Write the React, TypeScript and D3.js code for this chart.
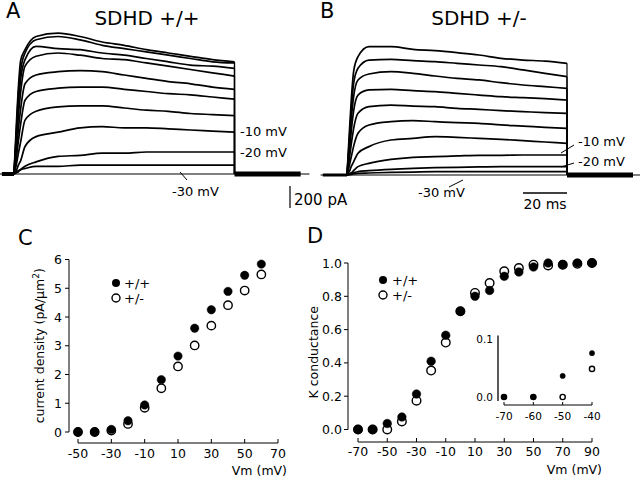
import React from "react";
import * as d3 from "d3";

// ---------- Panel A / B : current traces ----------
const stepVoltages = [-30, -20, -10, 0, 10, 20, 30, 40, 50, 60];
const traceTimes = [0, 1, 2, 3, 5, 10, 20, 30, 40, 50, 60, 70, 80, 90, 100];

// pA, one row per step voltage (-30 ... +60 mV)
const tracesWT = [
  [0, 20, 30, 40, 50, 70, 70, 80, 80, 80, 80, 80, 80, 80, 80],
  [0, 10, 20, 40, 70, 110, 160, 170, 190, 190, 200, 200, 200, 200, 200],
  [0, 30, 80, 120, 250, 340, 380, 420, 430, 420, 420, 410, 400, 390, 380],
  [0, 80, 190, 290, 490, 570, 610, 620, 620, 600, 580, 570, 550, 540, 530],
  [0, 140, 300, 450, 670, 750, 780, 790, 790, 770, 750, 730, 720, 700, 680],
  [0, 180, 410, 590, 820, 900, 930, 940, 930, 900, 870, 840, 820, 790, 770],
  [0, 270, 530, 740, 980, 1070, 1100, 1080, 1050, 1040, 1010, 980, 950, 920, 890],
  [0, 320, 640, 860, 1040, 1160, 1140, 1130, 1100, 1080, 1050, 1020, 990, 980, 960],
  [0, 360, 730, 940, 1100, 1220, 1250, 1220, 1170, 1140, 1110, 1080, 1050, 1020, 1010],
  [0, 420, 790, 1030, 1130, 1250, 1280, 1250, 1200, 1170, 1130, 1100, 1070, 1040, 1020],
];

const tracesHet = [
  [0, 3, 6, 10, 15, 18, 24, 27, 30, 30, 30, 30, 30, 30, 30],
  [0, 5, 10, 20, 30, 39, 52, 61, 67, 70, 73, 76, 76, 76, 76],
  [0, 10, 20, 40, 76, 106, 142, 161, 167, 173, 179, 179, 182, 182, 182],
  [0, 30, 80, 120, 197, 258, 318, 333, 348, 342, 333, 324, 312, 300, 288],
  [0, 80, 170, 260, 379, 455, 485, 494, 485, 476, 470, 455, 445, 433, 424],
  [0, 140, 290, 420, 561, 621, 636, 627, 621, 606, 597, 585, 576, 567, 561],
  [0, 200, 410, 580, 727, 773, 779, 767, 758, 742, 727, 712, 703, 694, 682],
  [0, 260, 520, 710, 864, 918, 939, 924, 900, 879, 864, 839, 818, 803, 788],
  [0, 300, 610, 830, 970, 1045, 1051, 1039, 1030, 1015, 1000, 985, 955, 924, 894],
  [0, 360, 700, 940, 1076, 1167, 1167, 1142, 1130, 1112, 1091, 1061, 1045, 1036, 1015],
];

// ---------- Panel C : current density ----------
const cVm = [-50, -40, -30, -20, -10, 0, 10, 20, 30, 40, 50, 60];
const cWT = [0, 0, 0.09, 0.39, 0.94, 1.82, 2.64, 3.61, 4.25, 4.89, 5.45, 5.84];
const cHet = [0, 0, 0.05, 0.28, 0.84, 1.52, 2.28, 3.01, 3.7, 4.41, 4.92, 5.48];
const cXTicks = [-50, -30, -10, 10, 30, 50, 70];
const cYTicks = [0, 1, 2, 3, 4, 5, 6];

// ---------- Panel D : normalised K conductance ----------
const dVm = [-70, -60, -50, -40, -30, -20, -10, 0, 10, 20, 30, 40, 50, 60, 70, 80, 90];
const dWT = [0, 0, 0.036, 0.075, 0.213, 0.41, 0.566, 0.71, 0.8, 0.835, 0.92, 0.946, 0.976, 1.0, 0.99, 1.0, 1.0];
const dHet = [0, 0, 0, 0.048, 0.173, 0.354, 0.522, 0.71, 0.82, 0.88, 0.95, 0.97, 0.99, 0.985, 0.99, 0.995, 1.0];
const dXTicks = [-70, -50, -30, -10, 10, 30, 50, 70, 90];
const dYTicks = [0, 0.2, 0.4, 0.6, 0.8, 1.0];
const insetXTicks = [-70, -60, -50, -40];
const insetYLabels = [0, 0.1];

const FONT = "DejaVu Sans, sans-serif";

function TracePanel({ traces, x, y, preStart, postEnd, preWidth }: any) {
  const line = d3
    .line<[number, number]>()
    .x((d) => x(d[0]))
    .y((d) => y(d[1]))
    .curve(d3.curveMonotoneX);
  return (
    <g>
      <line x1={x(preStart - 1)} x2={x(postEnd + 4)} y1={y(0)} y2={y(0)} stroke="#000" strokeWidth={1} />
      <line x1={x(preStart)} x2={x(0)} y1={y(0)} y2={y(0)} stroke="#000" strokeWidth={preWidth} />
      <line x1={x(100)} x2={x(postEnd)} y1={y(0)} y2={y(0)} stroke="#000" strokeWidth={5} />
      {traces.map((tr: number[], i: number) => {
        const pts: [number, number][] = traceTimes.map((t, k) => [t, tr[k]]);
        const last = tr[tr.length - 1];
        return (
          <g key={i}>
            <path d={line(pts) || ""} fill="none" stroke="#000" strokeWidth={1.7} strokeLinejoin="round" />
            <line x1={x(100)} x2={x(100)} y1={y(last)} y2={y(0)} stroke="#000" strokeWidth={1.2} />
          </g>
        );
      })}
    </g>
  );
}

function Dots({ xs, ys, x, y, r, filled }: any) {
  return (
    <g>
      {xs.map((v: number, i: number) => (
        <circle
          key={i}
          cx={x(v)}
          cy={y(ys[i])}
          r={r}
          fill={filled ? "#000" : "#fff"}
          stroke="#000"
          strokeWidth={filled ? 0.5 : 1.4}
        />
      ))}
    </g>
  );
}

export default function App() {
  // trace scales
  const xA = d3.scaleLinear().domain([0, 100]).range([14, 234.5]);
  const yA = d3.scaleLinear().domain([0, 1000]).range([174, 64]);
  const xB = d3.scaleLinear().domain([0, 100]).range([347, 567]);
  const yB = d3.scaleLinear().domain([0, 1000]).range([175, 65]);

  // C scales
  const xC = d3.scaleLinear().domain([-50, 70]).range([78, 278]);
  const yC = d3.scaleLinear().domain([0, 6]).range([432, 259.5]);
  const axisYC = 443;
  const axisXC = 69;

  // D scales
  const xD = d3.scaleLinear().domain([-70, 90]).range([358, 592]);
  const yD = d3.scaleLinear().domain([0, 1]).range([429.5, 263]);
  const axisYD = 442;
  const axisXD = 348;

  // inset
  const xI = d3.scaleLinear().domain([-70, -40]).range([504, 592]);
  const yI = d3.scaleLinear().domain([0, 0.1]).range([397, 338.5]);
  const insetIdx = dVm.map((v, i) => i).filter((i) => dVm[i] <= -40);
  const insetVm = insetIdx.map((i) => dVm[i]);
  const insetWT = insetIdx.map((i) => dWT[i]);
  const insetHet = insetIdx.map((i) => dHet[i]);

  const txt = { fontFamily: FONT, fill: "#000" } as any;

  return (
    <svg width={640} height={480} style={{ position: "absolute", left: 0, top: 0, background: "#fff" }}>
      <rect width={640} height={480} fill="#fff" />

      {/* Panel A */}
      <text x={6} y={18} fontSize={21} {...txt}>A</text>
      <text x={147} y={25} fontSize={20} textAnchor="middle" {...txt}>SDHD +/+</text>
      <TracePanel traces={tracesWT} x={xA} y={yA} preStart={-5.5} postEnd={30 + 100} preWidth={4} />
      <text x={240} y={136} fontSize={13} {...txt}>-10 mV</text>
      <text x={240} y={157} fontSize={13} {...txt}>-20 mV</text>
      <text x={172} y={196} fontSize={13} {...txt}>-30 mV</text>
      <line x1={187} y1={180} x2={180} y2={172} stroke="#000" strokeWidth={1} />

      {/* scale bars */}
      <line x1={290} x2={290} y1={yA(0) + 12} y2={yA(0) + 12 + (yA(0) - yA(200))} stroke="#000" strokeWidth={1.2} />
      <text x={294} y={205} fontSize={15} {...txt}>200 pA</text>

      {/* Panel B */}
      <text x={320} y={18} fontSize={21} {...txt}>B</text>
      <text x={479} y={25} fontSize={20} textAnchor="middle" {...txt}>SDHD +/-</text>
      <TracePanel traces={tracesHet} x={xB} y={yB} preStart={-11} postEnd={130} preWidth={3} />
      <text x={578} y={146} fontSize={13} {...txt}>-10 mV</text>
      <line x1={574} y1={145} x2={561} y2={153} stroke="#000" strokeWidth={1} />
      <text x={578} y={166} fontSize={13} {...txt}>-20 mV</text>
      <line x1={574} y1={163} x2={561} y2={167} stroke="#000" strokeWidth={1} />
      <text x={418} y={197} fontSize={13} {...txt}>-30 mV</text>
      <line x1={449} y1={187} x2={463} y2={180} stroke="#000" strokeWidth={1} />
      <line x1={xB(80)} x2={xB(100)} y1={193} y2={193} stroke="#000" strokeWidth={1.3} />
      <text x={(xB(80) + xB(100)) / 2} y={209} fontSize={14} textAnchor="middle" {...txt}>20 ms</text>

      {/* Panel C */}
      <text x={18} y={245} fontSize={21} {...txt}>C</text>
      <line x1={axisXC} x2={axisXC} y1={yC(6)} y2={yC(0)} stroke="#000" strokeWidth={1} />
      {cYTicks.map((t) => (
        <g key={t}>
          <line x1={axisXC - 4} x2={axisXC} y1={yC(t)} y2={yC(t)} stroke="#000" />
          <text x={axisXC - 7} y={yC(t) + 4.5} fontSize={12.5} textAnchor="end" {...txt}>{t}</text>
        </g>
      ))}
      <line x1={xC(-50)} x2={xC(70)} y1={axisYC} y2={axisYC} stroke="#000" strokeWidth={1} />
      {cXTicks.map((t) => (
        <g key={t}>
          <line x1={xC(t)} x2={xC(t)} y1={axisYC - 4} y2={axisYC} stroke="#000" />
          <text x={xC(t)} y={axisYC + 15} fontSize={12.5} textAnchor="middle" {...txt}>{t}</text>
        </g>
      ))}
      <text x={287} y={475} fontSize={12.5} textAnchor="end" {...txt}>Vm (mV)</text>
      <text transform={`translate(44, ${(yC(0) + yC(6)) / 2}) rotate(-90)`} fontSize={12.5} textAnchor="middle" {...txt}>
        current density (pA/µm<tspan dy={-5} fontSize={9}>2</tspan><tspan dy={5}>)</tspan>
      </text>
      <Dots xs={cVm} ys={cHet} x={xC} y={yC} r={4.2} filled={false} />
      <Dots xs={cVm} ys={cWT} x={xC} y={yC} r={4.2} filled={true} />
      <circle cx={116} cy={283} r={4} fill="#000" />
      <text x={124} y={287.5} fontSize={13} {...txt}>+/+</text>
      <circle cx={116} cy={298} r={4} fill="#fff" stroke="#000" strokeWidth={1.4} />
      <text x={124} y={302.5} fontSize={13} {...txt}>+/-</text>

      {/* Panel D */}
      <text x={307} y={243} fontSize={21} {...txt}>D</text>
      <line x1={axisXD} x2={axisXD} y1={yD(1)} y2={yD(0)} stroke="#000" strokeWidth={1} />
      {dYTicks.map((t) => (
        <g key={t}>
          <line x1={axisXD - 4} x2={axisXD} y1={yD(t)} y2={yD(t)} stroke="#000" />
          <text x={axisXD - 6} y={yD(t) + 4.5} fontSize={12.5} textAnchor="end" {...txt}>{t.toFixed(1)}</text>
        </g>
      ))}
      <line x1={xD(-70)} x2={xD(90)} y1={axisYD} y2={axisYD} stroke="#000" strokeWidth={1} />
      {dXTicks.map((t) => (
        <g key={t}>
          <line x1={xD(t)} x2={xD(t)} y1={axisYD - 4} y2={axisYD} stroke="#000" />
          <text x={xD(t)} y={axisYD + 14} fontSize={12.5} textAnchor="middle" {...txt}>{t}</text>
        </g>
      ))}
      <text x={602} y={474} fontSize={12.5} textAnchor="end" {...txt}>Vm (mV)</text>
      <text transform={`translate(318, ${(yD(0) + yD(1)) / 2 + 6}) rotate(-90)`} fontSize={12.5} textAnchor="middle" {...txt}>
        K conductance
      </text>
      <Dots xs={dVm} ys={dHet} x={xD} y={yD} r={4.3} filled={false} />
      <Dots xs={dVm} ys={dWT} x={xD} y={yD} r={4.3} filled={true} />
      <circle cx={383} cy={280} r={4} fill="#000" />
      <text x={392} y={284.5} fontSize={13} {...txt}>+/+</text>
      <circle cx={383} cy={295} r={4} fill="#fff" stroke="#000" strokeWidth={1.4} />
      <text x={392} y={299.5} fontSize={13} {...txt}>+/-</text>

      {/* inset */}
      <line x1={498} x2={498} y1={yI(0.1) - 3} y2={yI(0) + 4} stroke="#000" strokeWidth={1.3} />
      {insetYLabels.map((t) => (
        <text key={t} x={493} y={yI(t) + 4} fontSize={10.5} textAnchor="end" {...txt}>{t.toFixed(1)}</text>
      ))}
      <line x1={xI(-70)} x2={xI(-40)} y1={405} y2={405} stroke="#000" strokeWidth={1} />
      {insetXTicks.map((t) => (
        <g key={t}>
          <line x1={xI(t)} x2={xI(t)} y1={402} y2={405} stroke="#000" />
          <text x={xI(t)} y={420} fontSize={10.5} textAnchor="middle" {...txt}>{t}</text>
        </g>
      ))}
      <Dots xs={insetVm} ys={insetHet} x={xI} y={yI} r={2.6} filled={false} />
      <Dots xs={insetVm} ys={insetWT} x={xI} y={yI} r={2.6} filled={true} />
    </svg>
  );
}
